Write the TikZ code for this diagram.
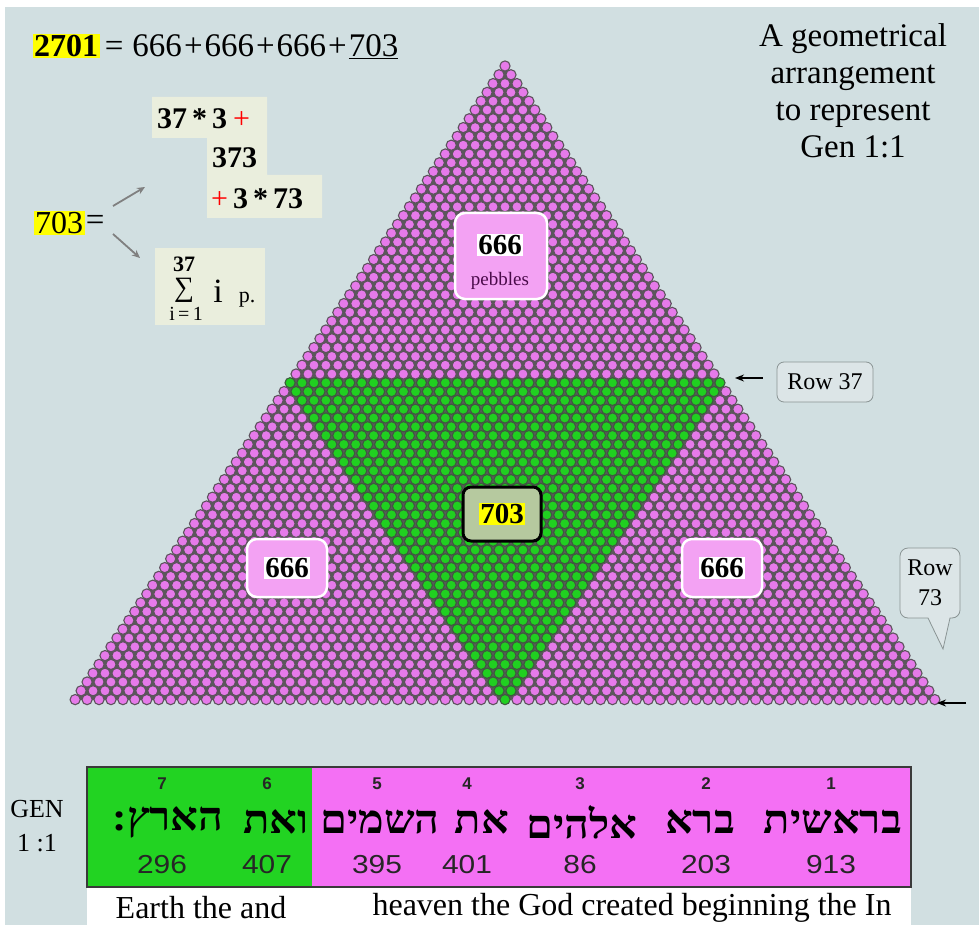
\documentclass[tikz,border=0pt]{standalone}
\usepackage{fontspec}
\setmainfont{Liberation Serif}
\newfontfamily\hebfont[Script=Hebrew]{Liberation Serif}
\newfontfamily\arialfont{Liberation Sans}
\usetikzlibrary{arrows.meta, positioning}
\TeXXeTstate=1
\definecolor{bgblue}{HTML}{D1DFE1}
\definecolor{pebpink}{HTML}{E67AEA}
\definecolor{pebgreen}{HTML}{20D020}
\definecolor{pebedge}{HTML}{5E525E}
\definecolor{gredge}{HTML}{3E5A3E}
\definecolor{gapgray}{HTML}{5A5A5A}
\definecolor{lblpink}{HTML}{F3A2F3}
\definecolor{hlyellow}{HTML}{FFFF00}
\definecolor{boxcream}{HTML}{EAEEDD}
\definecolor{lblgreen}{HTML}{B6C99F}
\definecolor{tabgreen}{HTML}{22D322}
\definecolor{tabpink}{HTML}{F470F4}
\definecolor{tabedge}{HTML}{3A3A3A}
\definecolor{txtpurple}{HTML}{4A0A4A}
\definecolor{calloutbg}{HTML}{DCE5E7}
\definecolor{calloutedge}{HTML}{8A9494}
\definecolor{arrgray}{HTML}{808080}

\tikzset{
  pebble/.style={line width=1.1pt},
  bigtxt/.style={font=\fontsize{33}{37.3}\selectfont},
  transltxt/.style={font=\fontsize{32}{36}\selectfont},
  boldtxt/.style={font=\bfseries\fontsize{30}{34}\selectfont},
  lblbox/.style={draw=white, line width=2.5pt, fill=lblpink, rounded corners=10pt},
  numwhite/.style={fill=white, inner sep=1pt, font=\bfseries\fontsize{29}{32}\selectfont},
  calltxt/.style={font=\fontsize{24}{30}\selectfont},
  idxtxt/.style={font=\arialfont\bfseries\fontsize{17}{20}\selectfont, text=black!85},
  hebtxt/.style={font=\hebfont\bfseries\fontsize{40}{44}\selectfont, xscale=1.08},
  valtxt/.style={font=\arialfont\fontsize{26}{28}\selectfont, xscale=1.15, text=black!85},
}

\begin{document}
\begin{tikzpicture}[x=1pt, y=-1pt]
\useasboundingbox (0,0) rectangle (979,925);

% Background
\fill[white] (0,0) rectangle (979,925);
\fill[bgblue] (5,7) rectangle (979,925);

% --- Pebble triangle: 73 rows, 2701 pebbles ---
\fill[gapgray] (505,66) -- (75,700) -- (935,700) -- cycle;
\foreach \r in {1,...,73}{
  \foreach \k in {1,...,\r}{
    \pgfmathtruncatemacro\ingreen{(\r>36)&&(\k>\r-37)&&(\k<38)}
    \ifnum\ingreen=1
      \filldraw[pebble, fill=pebgreen, draw=gredge]
        ({505+(\k-(\r+1)/2)*11.94},{66+(\r-1)*8.8}) circle (5.1);
    \else
      \filldraw[pebble, fill=pebpink, draw=pebedge]
        ({505+(\k-(\r+1)/2)*11.94},{66+(\r-1)*8.8}) circle (5.1);
    \fi
  }
}

% --- Top left sum ---
\node[fill=hlyellow, inner sep=1.5pt, font=\bfseries\fontsize{32}{37}\selectfont]
  (total) at (66,46) {2701};
\node[bigtxt, anchor=base west, inner sep=0pt] (sumeq) at ([xshift=5pt]total.base east)
  {=\hspace{9pt}666\hspace{2pt}+\hspace{2pt}666\hspace{2pt}+\hspace{2pt}666\hspace{2pt}+\hspace{2pt}\underline{703}};

% --- 703 = ... ---
\node[fill=hlyellow, inner sep=1.5pt, font=\fontsize{32}{37}\selectfont]
  (v703) at (59,223) {703};
\node[bigtxt, right=1pt of v703, inner sep=0pt] (eqsign) {=};
\coordinate (upfrom) at (113,206);
\coordinate (upto) at (145,187);
\coordinate (downfrom) at (113,234);
\coordinate (downto) at (140,258);
\draw[arrgray, line width=1.8pt, -{Stealth[length=8pt, width=7pt]}] (upfrom) -- (upto);
\draw[arrgray, line width=1.8pt, -{Stealth[length=8pt, width=7pt]}] (downfrom) -- (downto);

% first form, stepped box
\fill[boxcream] (152,97) -- (267,97) -- (267,175) -- (322,175) -- (322,218)
  -- (207,218) -- (207,138) -- (152,138) -- cycle;
\node[boldtxt, anchor=base west, inner sep=0pt] (form1a) at (157,129)
  {37\,*\,3\hspace{6pt}\textcolor{red}{\mdseries+}};
\node[boldtxt, anchor=base west, inner sep=0pt] (form1b) at (212,168) {373};
\node[boldtxt, anchor=base west, inner sep=0pt] (form1c) at (211,209)
  {\textcolor{red}{\mdseries+}\hspace{5pt}3\,*\,73};

% second form, sum of 1..37
\fill[boxcream] (155,248) rectangle (265,325);
\node[font=\bfseries\fontsize{22}{26}\selectfont, inner sep=0pt] (sumtop) at (184,264) {37};
\node[font=\fontsize{28}{30}\selectfont, inner sep=0pt] (sumsign) at (184,290) {∑};
\node[font=\fontsize{34}{36}\selectfont, anchor=base, inner sep=0pt] (sumi) at (218,302) {i};
\node[font=\fontsize{22}{24}\selectfont, anchor=base, inner sep=0pt] (sump) at (247,302) {p.};
\node[font=\fontsize{20}{24}\selectfont, inner sep=0pt] (sumbot) at (186,314) {i\,=\,1};

% --- Title top right ---
\node[bigtxt, align=center, anchor=north, inner sep=0pt] (title) at (853,23)
  {A geometrical\\arrangement\\to represent\\Gen 1:1};

% --- Labels on the triangle ---
\node[lblbox, minimum width=92, minimum height=86] (topbox) at (501,256) {};
\node[numwhite] (topnum) at (500,245) {666};
\node[font=\fontsize{19}{22}\selectfont, text=txtpurple] (toppeb) at (500,281) {pebbles};

\node[lblbox, minimum width=80, minimum height=58] (leftbox) at (287,568) {};
\node[numwhite] (leftnum) at (287,568) {666};
\node[lblbox, minimum width=80, minimum height=58] (rightbox) at (722,568) {};
\node[numwhite] (rightnum) at (722,568) {666};

\node[draw=black, line width=3pt, fill=lblgreen, rounded corners=8pt,
  minimum width=78, minimum height=54] (midbox) at (502,514) {};
\node[fill=hlyellow, inner sep=1.5pt, font=\bfseries\fontsize{29}{32}\selectfont]
  (midnum) at (502,514) {703};

% --- Row callouts ---
\node[calltxt, draw=calloutedge, fill=calloutbg, line width=0.8pt, rounded corners=7pt,
  minimum width=96, minimum height=40] (row37) at (825,382) {Row 37};
\coordinate (r37tip) at (735,378);
\draw[black, line width=1.5pt, -{Stealth[length=9pt, width=7pt]}]
  ([xshift=-14pt, yshift=4pt]row37.west) -- (r37tip);

\draw[calloutedge, fill=calloutbg, line width=0.8pt]
  (930,548) [rounded corners=8pt] -- (960,548) -- (960,618) [sharp corners]
  -- (950,618) -- (943,649) -- (928,618) [rounded corners=8pt] -- (900,618)
  -- (900,548) -- (930,548);
\node[calltxt, align=center] (row73) at (930,583) {Row\\73};
\coordinate (r73tail) at (966,703);
\coordinate (r73tip) at (937,703);
\draw[black, line width=1.5pt, -{Stealth[length=9pt, width=7pt]}] (r73tail) -- (r73tip);

% --- Gen 1:1 table ---
\node[font=\fontsize{26}{34}\selectfont, align=center] (genref) at (37,826) {GEN\\1 :1};
\fill[tabgreen] (87,767) rectangle (312,887);
\fill[tabpink] (312,767) rectangle (911,887);
\draw[tabedge, line width=2pt] (87,767) rectangle (911,887);
\fill[white] (87,888) rectangle (911,925);
\foreach \x/\hx/\n/\w/\v in {162/168/7/{הארץ:}/296, 267/276/6/ואת/407,
    377/380/5/השמים/395, 467/482/4/את/401, 580/582/3/אלהים/86,
    706/700/2/ברא/203, 831/833/1/בראשית/913}{
  \node[idxtxt] (idx\n) at (\x,784) {\n};
  \node[hebtxt] (heb\n) at (\hx,822) {\beginR\w\endR};
  \node[valtxt] (val\n) at (\x,865) {\v};
}
\node[transltxt] (transl1) at (201,908) {Earth the and};
\node[transltxt] (transl2) at (632,908) {heaven the God created beginning the In};

\end{tikzpicture}
\end{document}
